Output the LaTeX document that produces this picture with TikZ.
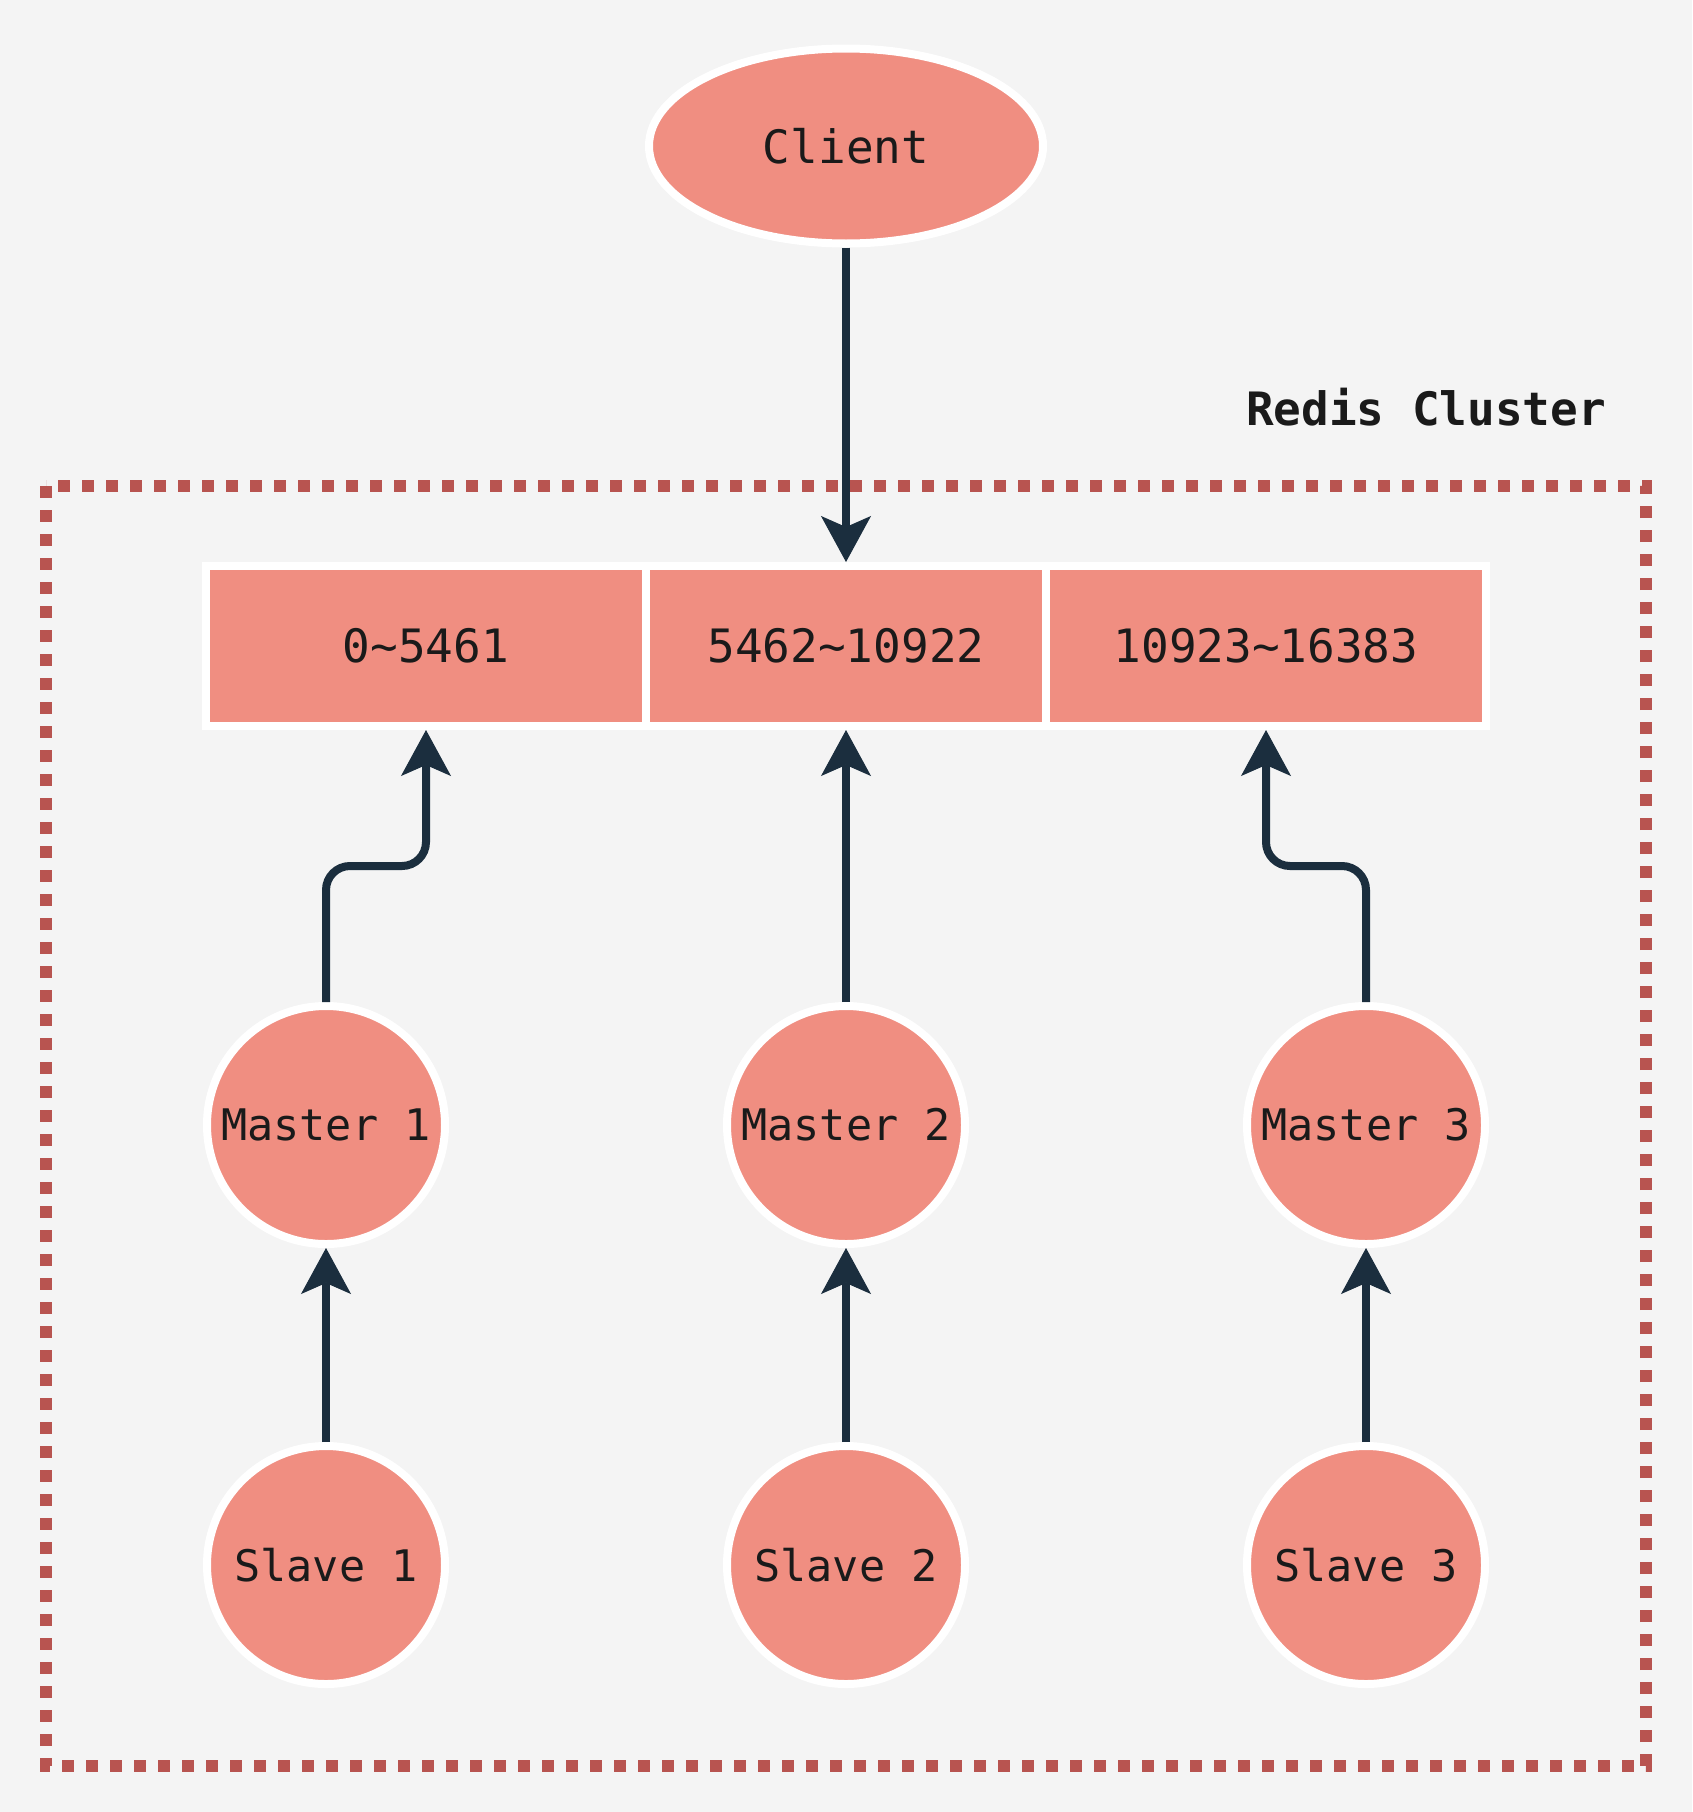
\documentclass[tikz,border=0pt]{standalone}
\usepackage{fontspec}
\setmonofont{DejaVu Sans Mono}
\usepackage{xcolor}
\usetikzlibrary{shapes,arrows.meta,positioning,calc}

\definecolor{nodefill}{HTML}{F08E81}
\definecolor{arrowcol}{HTML}{1B2E3E}
\definecolor{clusterred}{HTML}{B85450}
\definecolor{bgcol}{HTML}{F4F4F4}
\definecolor{textcol}{HTML}{1A1A1A}

\begin{document}
\begin{tikzpicture}[x=1pt, y=-1pt,
    every node/.style={font=\ttfamily\fontsize{46}{55}\selectfont, text=textcol},
    slotbox/.style={rectangle, draw=white, fill=nodefill, line width=8pt, minimum height=160pt},
    host/.style={circle, draw=white, fill=nodefill, line width=8pt, minimum size=238pt, inner sep=0pt, font=\ttfamily\fontsize{43.5}{52}\selectfont},
    link/.style={draw=arrowcol, line width=8pt, -{Stealth[length=46pt, width=50pt, inset=11pt, line width=1pt]}}]
    \fill[bgcol] (0,0) rectangle (1692,1812);
    \draw[clusterred, line width=12pt, dash pattern=on 12pt off 12pt] (46,486) rectangle (1646,1766);

    \node (client) at (846,146) [ellipse, draw=white, fill=nodefill, line width=8pt, minimum width=394pt, minimum height=195pt] {Client};
    \node (cluster) at (1426,407) [font=\ttfamily\bfseries\fontsize{46}{55}\selectfont] {Redis Cluster};

    \node (b1) at (426,646) [slotbox, minimum width=440pt] {0\textasciitilde{}5461};
    \node (b2) at (846,646) [slotbox, minimum width=400pt] {5462\textasciitilde{}10922};
    \node (b3) at (1266,646) [slotbox, minimum width=440pt] {10923\textasciitilde{}16383};

    \node (m1) at (326,1125) [host] {Master 1};
    \node (m2) at (846,1125) [host] {Master 2};
    \node (m3) at (1366,1125) [host] {Master 3};
    \node (s1) at (326,1565) [host] {Slave 1};
    \node (s2) at (846,1565) [host] {Slave 2};
    \node (s3) at (1366,1565) [host] {Slave 3};

    \draw[link] (client) -- (b2);
    \draw[link, rounded corners=24pt] (m1.north) |- ($(m1.north)!0.5!(b1.south)$) -| (b1.south);
    \draw[link] (m2) -- (b2);
    \draw[link, rounded corners=24pt] (m3.north) |- ($(m3.north)!0.5!(b3.south)$) -| (b3.south);
    \draw[link] (s1) -- (m1);
    \draw[link] (s2) -- (m2);
    \draw[link] (s3) -- (m3);
\end{tikzpicture}
\end{document}
